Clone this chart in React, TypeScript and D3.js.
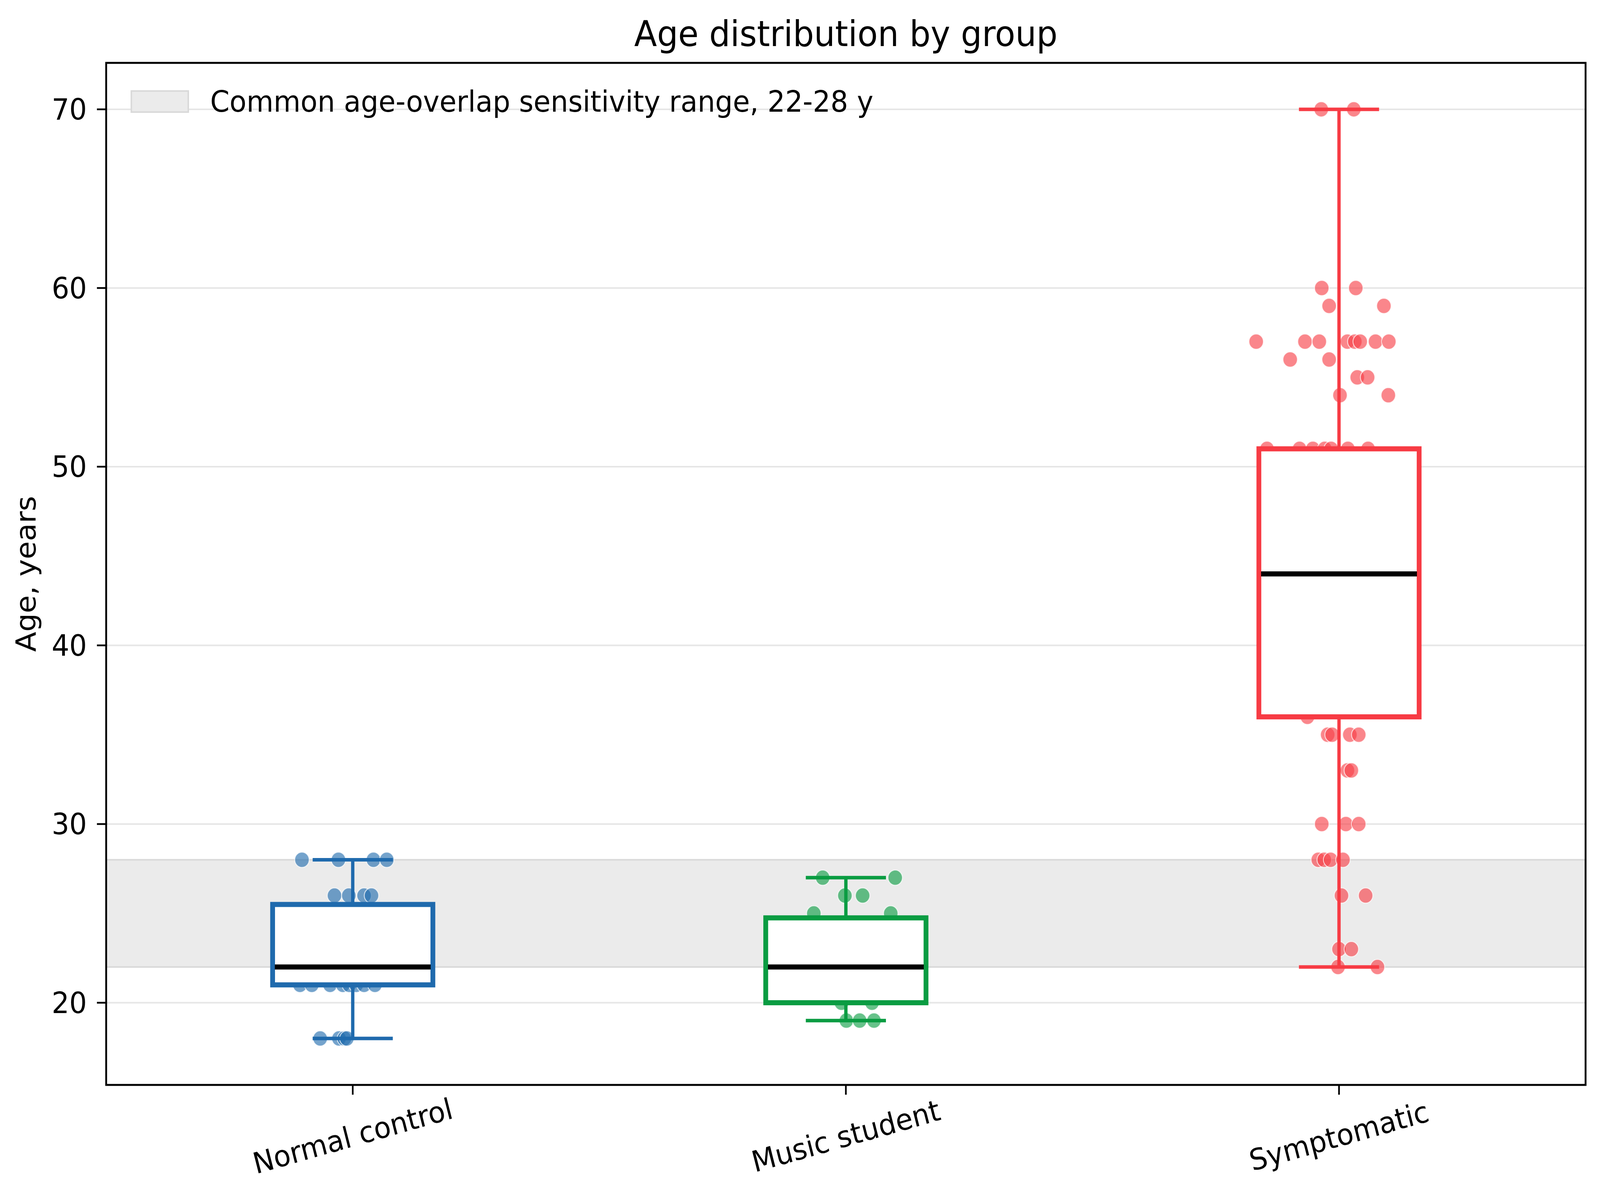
import * as d3 from 'd3';

const groups = ['Normal control', 'Music student', 'Symptomatic'];
const groupColors = ['#1f6aad', '#0a9c42', '#f73b44'];

// box statistics
const q1 = [21, 20, 36];
const medians = [22, 22, 44];
const q3 = [25.5, 24.75, 51];
const whiskerLow = [18, 19, 22];
const whiskerHigh = [28, 27, 70];

// visible points: age and horizontal jitter (in category units)
const normalAges = [28, 28, 28, 28, 26, 26, 26, 26, 21, 21, 21, 21, 21, 21, 21, 21, 18, 18, 18, 18];
const normalJitter = [-0.103, -0.029, 0.042, 0.069, -0.037, -0.008, 0.023, 0.038, -0.107, -0.083, -0.046, -0.02, -0.007, 0.007, 0.023, 0.045, -0.066, -0.028, -0.017, -0.012];

const musicAges = [27, 27, 26, 26, 25, 25, 20, 20, 19, 19, 19];
const musicJitter = [-0.047, 0.1, -0.002, 0.034, -0.065, 0.091, -0.009, 0.053, 0.001, 0.028, 0.057];

const symptomaticAges = [
  70, 70, 60, 60, 59, 59, 57, 57, 57, 57, 57, 57, 57, 57, 56, 56, 55, 55, 54, 54,
  51, 51, 51, 51, 51, 51, 51, 36, 35, 35, 35, 35, 33, 33, 30, 30, 30, 28, 28, 28, 28,
  26, 26, 23, 23, 22, 22,
];
const symptomaticJitter = [
  -0.036, 0.03, -0.035, 0.034, -0.02, 0.091, -0.168, -0.069, -0.04, 0.017, 0.032, 0.043, 0.074, 0.101,
  -0.099, -0.02, 0.037, 0.058, 0.002, 0.1,
  -0.146, -0.08, -0.053, -0.029, -0.016, 0.018, 0.059, -0.064, -0.023, -0.014, 0.022, 0.04,
  0.017, 0.025, -0.035, 0.014, 0.04, -0.042, -0.03, -0.017, 0.008, 0.005, 0.054, 0, 0.025, -0.002, 0.078,
];

const groupAges = [normalAges, musicAges, symptomaticAges];
const groupJitter = [normalJitter, musicJitter, symptomaticJitter];

const yTicks = [20, 30, 40, 50, 60, 70];
const bandRange = [22, 28];
const legendLabel = 'Common age-overlap sensitivity range, 22-28 y';

const W = 4325;
const H = 3024;
const plot = { left: 287, right: 4286, top: 161, bottom: 2778 };
const FONT = 'DejaVu Sans, sans-serif';

export default function App() {
  const x = d3.scalePoint<string>().domain(groups).range([plot.left, plot.right]).padding(0.5);
  const step = x.step();
  const y = d3.scaleLinear().domain([15.4, 72.6]).range([plot.bottom, plot.top]);

  const boxW = 0.325 * step;
  const capW = boxW / 2;

  return (
    <svg
      viewBox={`0 0 ${W} ${H}`}
      preserveAspectRatio="none"
      style={{ position: 'fixed', left: 0, top: 0, width: '100vw', height: '100vh', background: '#fff' }}
      fontFamily={FONT}
    >
      <rect x={0} y={0} width={W} height={H} fill="#fff" />

      {/* grid */}
      {yTicks.map((t) => (
        <line key={t} x1={plot.left} x2={plot.right} y1={y(t)} y2={y(t)} stroke="#e6e6e6" strokeWidth={4} />
      ))}

      {/* overlap band */}
      <rect
        x={plot.left}
        width={plot.right - plot.left}
        y={y(bandRange[1])}
        height={y(bandRange[0]) - y(bandRange[1])}
        fill="#ebebeb"
        stroke="#d9d9d9"
        strokeWidth={4}
      />

      {/* points, under the boxes */}
      {groups.map((g, i) => (
        <g key={g}>
          {groupAges[i].map((age, j) => (
            <circle
              key={j}
              cx={(x(g) ?? 0) + groupJitter[i][j] * step}
              cy={y(age)}
              r={19.5}
              fill={groupColors[i]}
              fillOpacity={0.62}
              stroke="#fff"
              strokeOpacity={0.7}
              strokeWidth={2.5}
            />
          ))}
        </g>
      ))}

      {/* boxes */}
      {groups.map((g, i) => {
        const cx = x(g) ?? 0;
        const c = groupColors[i];
        return (
          <g key={g}>
            <line x1={cx} x2={cx} y1={y(q3[i])} y2={y(whiskerHigh[i])} stroke={c} strokeWidth={9} />
            <line x1={cx} x2={cx} y1={y(q1[i])} y2={y(whiskerLow[i])} stroke={c} strokeWidth={9} />
            <line x1={cx - capW / 2} x2={cx + capW / 2} y1={y(whiskerHigh[i])} y2={y(whiskerHigh[i])} stroke={c} strokeWidth={9} />
            <line x1={cx - capW / 2} x2={cx + capW / 2} y1={y(whiskerLow[i])} y2={y(whiskerLow[i])} stroke={c} strokeWidth={9} />
            <rect
              x={cx - boxW / 2}
              width={boxW}
              y={y(q3[i])}
              height={y(q1[i]) - y(q3[i])}
              fill="#fff"
              stroke={c}
              strokeWidth={13}
            />
            <line x1={cx - boxW / 2 + 6} x2={cx + boxW / 2 - 6} y1={y(medians[i])} y2={y(medians[i])} stroke="#000" strokeWidth={13} />
          </g>
        );
      })}

      {/* frame */}
      <rect
        x={plot.left}
        y={plot.top}
        width={plot.right - plot.left}
        height={plot.bottom - plot.top}
        fill="none"
        stroke="#000"
        strokeWidth={5}
      />

      {/* y axis */}
      {yTicks.map((t) => (
        <g key={t}>
          <line x1={plot.left - 25} x2={plot.left} y1={y(t)} y2={y(t)} stroke="#000" strokeWidth={4.5} />
          <text x={plot.left - 52} y={y(t)} textAnchor="end" dominantBaseline="central" fontSize={75} fill="#000">
            {t}
          </text>
        </g>
      ))}
      <text
        transform={`translate(70,${(plot.top + plot.bottom) / 2}) rotate(-90)`}
        textAnchor="middle"
        dominantBaseline="central"
        fontSize={75}
        fill="#000"
      >
        Age, years
      </text>

      {/* x axis */}
      {groups.map((g) => (
        <g key={g}>
          <line x1={x(g)} x2={x(g)} y1={plot.bottom} y2={plot.bottom + 25} stroke="#000" strokeWidth={4.5} />
          <text
            transform={`translate(${x(g)},2909) rotate(-15)`}
            textAnchor="middle"
            dominantBaseline="central"
            fontSize={75}
            fill="#000"
          >
            {g}
          </text>
        </g>
      ))}

      {/* title */}
      <text x={(plot.left + plot.right) / 2} y={118} textAnchor="middle" fontSize={90} fill="#000">
        Age distribution by group
      </text>

      {/* legend */}
      <rect x={355} y={233} width={154} height={54} fill="#ebebeb" stroke="#d9d9d9" strokeWidth={4} />
      <text x={568} y={260} dominantBaseline="central" fontSize={75} fill="#000">
        {legendLabel}
      </text>
    </svg>
  );
}
